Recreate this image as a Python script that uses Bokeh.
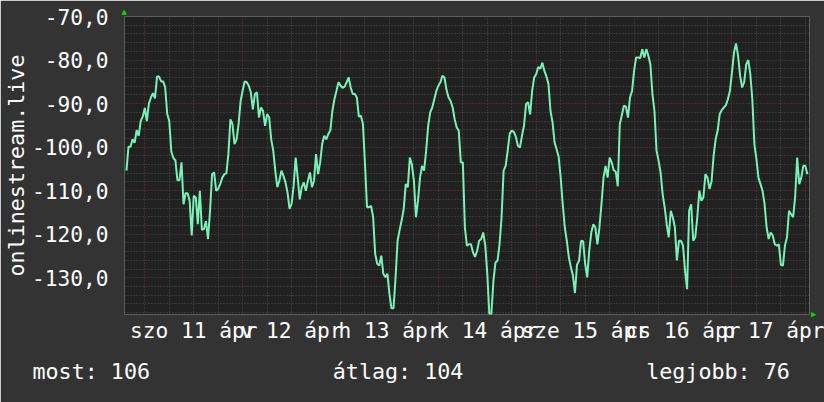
from bokeh.plotting import figure
from bokeh.models import Range1d, FixedTicker, Title
from bokeh.embed import file_html
from bokeh.resources import INLINE

# time in hours since szo 11 ápr 00:00, 30-minute samples
t_start = -4.5
t_step = 0.5
values = [
    -105.4, -99.9, -99.9, -98.2, -99.0, -96.1, -97.4, -94.0, -93.0, -91.0,
    -94.0, -90.0, -88.6, -87.6, -88.8, -83.8, -83.8, -84.9, -84.9, -86.3,
    -92.4, -94.0, -101.0, -102.5, -103.0, -107.6, -107.6, -103.5, -113.1, -110.6,
    -110.6, -112.3, -120.3, -111.2, -111.5, -117.7, -110.0, -119.0, -118.8, -117.0,
    -121.1, -114.6, -106.2, -105.8, -110.0, -109.6, -108.5, -107.0, -106.2, -106.0,
    -101.6, -93.6, -94.7, -99.3, -98.2, -94.7, -89.4, -87.0, -84.9, -85.1,
    -85.9, -87.4, -91.3, -87.8, -87.4,
    -93.2, -90.9, -91.7, -95.1, -92.4, -93.2, -98.2, -100.8, -105.4, -109.2,
    -107.7, -105.4, -106.6, -108.1, -110.4, -114.2, -113.0, -108.9, -102.4, -107.0,
    -112.0, -109.2, -108.1, -110.0, -107.7, -105.8, -109.2, -107.7, -101.6, -106.2,
    -103.5, -99.3, -97.4, -98.2, -97.0, -96.2, -91.7, -89.0, -87.1, -85.1,
    -85.9, -86.4, -86.1, -85.1, -84.0, -86.3, -87.8, -87.8, -88.6, -93.0,
    -92.8, -94.7, -103.9, -113.8, -113.8, -113.5, -116.1, -124.5, -126.8, -127.2,
    -124.9, -129.1, -129.9, -129.1, -133.7, -137.0, -137.0,
    -129.9, -121.5, -119.0, -116.8, -114.2, -108.5, -109.2, -102.4, -104.0, -107.7,
    -116.1, -112.3, -107.0, -104.3, -105.4, -100.8, -95.1, -92.0, -90.9, -89.0,
    -87.1, -85.9, -85.1, -83.6, -84.0, -86.9, -88.6, -89.4, -90.9, -93.6,
    -95.5, -96.2, -103.5, -103.5, -118.4, -122.6, -122.3, -122.3, -124.2, -125.2,
    -123.8, -121.5, -121.1, -119.6, -122.6, -129.1, -138.3, -138.3, -130.7, -126.5,
    -126.1, -122.3, -116.1, -105.4, -104.3, -100.8, -96.9, -96.2, -96.5, -97.6,
    -99.7, -100.1, -97.4, -95.1, -90.1, -89.7,
    -92.5, -87.1, -84.0, -83.2, -81.6, -82.0, -80.6, -82.5, -83.8, -85.5,
    -91.7, -94.3, -98.9, -100.5, -102.2, -107.0, -113.1, -118.4, -121.5, -125.3,
    -127.6, -129.5, -133.5, -127.0, -126.1, -121.5, -121.6, -126.8, -129.9, -123.8,
    -119.6, -117.7, -118.4, -122.3, -118.4, -113.1, -107.0, -104.3, -107.0, -102.4,
    -103.5, -105.3, -105.6, -109.0, -94.7, -92.6, -90.5, -90.7, -93.2, -88.6,
    -87.1, -82.5, -79.4, -79.4, -79.6, -77.5, -79.4, -77.5, -79.0, -81.0,
    -87.8, -91.7, -100.8, -103.1, -105.8, -110.8, -113.8,
    -117.7, -120.7, -114.6, -116.1, -118.4, -126.0, -121.5, -121.5, -122.6, -128.4,
    -132.6, -114.6, -113.1, -121.5, -120.7, -116.1, -110.0, -112.3, -111.5, -106.2,
    -107.0, -109.6, -107.9, -102.0, -98.2, -96.2, -92.4, -91.5, -90.9, -90.4,
    -89.0, -87.1, -82.9, -78.3, -76.2, -79.0, -83.6, -86.3, -85.1, -81.0,
    -80.0, -83.2, -89.0, -99.3, -102.7, -107.0, -108.5, -110.0, -113.1, -118.4,
    -121.1, -119.6, -120.3, -122.3, -122.6, -122.3, -127.0, -127.2, -122.6, -120.7,
    -114.6, -115.4, -116.1, -111.5, -102.4, -108.5, -107.0, -104.3, -104.3, -106.2,
]
times = [t_start + i * t_step for i in range(len(values))]

x_label_ticks = [12, 36, 60, 84, 108, 132, 156]
x_labels = ["szo 11 ápr", "v 12 ápr", "h 13 ápr", "k 14 ápr",
            "sze 15 ápr", "cs 16 ápr", "p 17 ápr"]
day_lines = [0, 24, 48, 72, 96, 120, 144]
six_hour_lines = [h for h in range(-0, 168, 6) if h % 24 != 0]

y_ticks = [-130, -120, -110, -100, -90, -80, -70]
y_labels = ["-130,0", "-120,0", "-110,0", "-100,0", "-90,0", "-80,0", "-70,0"]
y_minor = [v for v in range(-138, -69, 2) if v % 10 != 0]

axis_title = "onlinestream.live"
summary_texts = ["most: 106", "átlag: 104", "legjobb: 76"]

FONT = "DejaVu Sans Mono"
TXT = "#ffffff"
NB = "\u00a0"

# one monospace line: items start at character columns 0, 23 and 47
summary_line = (summary_texts[0] + NB * (23 - len(summary_texts[0]))
                + summary_texts[1] + NB * (47 - 23 - len(summary_texts[1]))
                + summary_texts[2])

p = figure(width=824, height=402, output_backend="svg", toolbar_location=None,
           x_range=Range1d(-4.98, 163.02), y_range=Range1d(-138.43, -70.0),
           min_border_left=124, min_border_right=15, min_border_top=16,
           min_border_bottom=88,
           background_fill_color="#212121", border_fill_color="#333333",
           outline_line_color=None)

# grids
p.xgrid.ticker = FixedTicker(ticks=day_lines, minor_ticks=six_hour_lines)
p.ygrid.ticker = FixedTicker(ticks=y_ticks, minor_ticks=y_minor)
for g in (p.xgrid, p.ygrid):
    g.grid_line_color = "#7e3535"
    g.grid_line_dash = "1 2"
    g.grid_line_width = 1
    g.minor_grid_line_color = "#525252"
    g.minor_grid_line_dash = "1 2"
    g.minor_grid_line_width = 1

# axes
p.xaxis.ticker = FixedTicker(ticks=x_label_ticks)
p.xaxis.major_label_overrides = dict(zip(x_label_ticks, x_labels))
p.yaxis.ticker = FixedTicker(ticks=y_ticks)
p.yaxis.major_label_overrides = dict(zip(y_ticks, y_labels))
for ax in (p.xaxis[0], p.yaxis[0]):
    ax.axis_line_color = None
    ax.major_tick_line_color = None
    ax.minor_tick_line_color = None
    ax.major_tick_out = 0
    ax.major_tick_in = 0
    ax.minor_tick_out = 0
    ax.minor_tick_in = 0
    ax.major_label_text_font = FONT
    ax.major_label_text_font_size = "21.2px"
    ax.major_label_text_color = TXT
    ax.axis_label_text_font = FONT
    ax.axis_label_text_font_style = "normal"
    ax.axis_label_text_color = TXT
p.xaxis.major_label_standoff = 3
p.yaxis.major_label_standoff = 16

p.yaxis.axis_label = axis_title
p.yaxis.axis_label_text_font_size = "21.7px"
p.yaxis.axis_label_standoff = 0

# legend line under the axis
p.add_layout(Title(text=summary_line, align="left", offset=-92, standoff=22,
                   text_font=FONT, text_font_size="21.7px",
                   text_font_style="normal", text_color=TXT), "below")

# small green axis arrows
p.add_layout(Title(text="▲", align="left", offset=-3, standoff=2,
                   text_font="DejaVu Sans", text_font_size="7px",
                   text_font_style="normal", text_color="#00dd00"), "above")
p.add_layout(Title(text="▲", align="right", offset=-3, standoff=0,
                   text_font="DejaVu Sans", text_font_size="7px",
                   text_font_style="normal", text_color="#00dd00"), "right")

p.line(times, values, line_color="#78f2b6", line_width=2)

open("out.html", "w").write(file_html(p, INLINE))
